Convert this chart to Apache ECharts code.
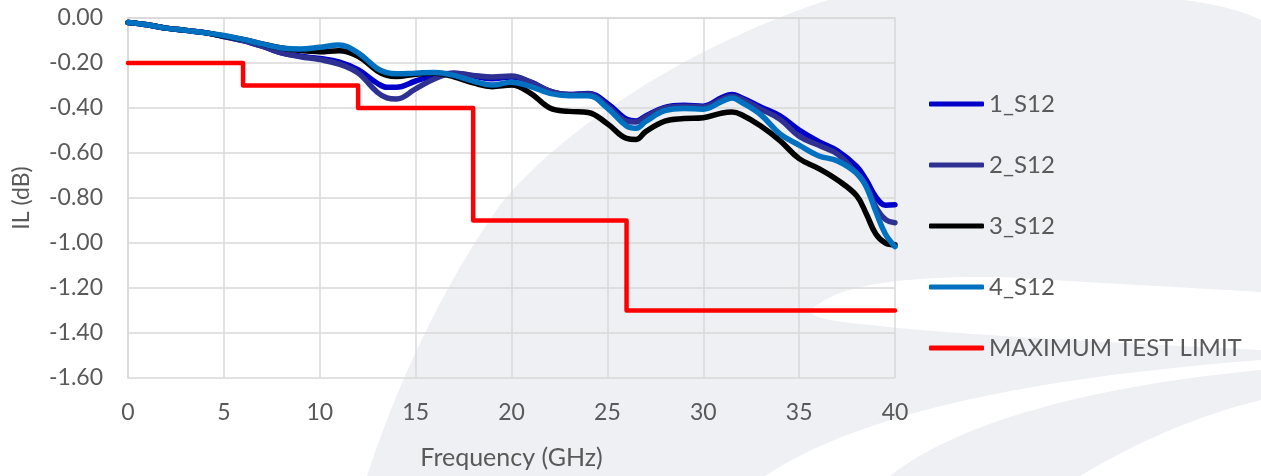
<!DOCTYPE html>
<html>
<head>
<meta charset="utf-8">
<script src="https://cdn.jsdelivr.net/npm/echarts@6/dist/echarts.min.js"></script>
<style>
  html, body { margin: 0; padding: 0; background: #ffffff; }
  #chart { width: 1261px; height: 476px; }
</style>
</head>
<body>
<div id="chart"></div>
<script>
// ---- data ----
var freqGHz = [0,1,2,3,4,5,6,7,8,9,10,11,12,13,13.5,14,15,16,17,18,19,20,21,22,23,24,25,26,26.5,27,28,29,30,31,31.5,32,33,34,35,36,37,38,38.5,39,39.5,40];

var s1_S12 = [-0.02,-0.03,-0.045,-0.055,-0.065,-0.082,-0.10,-0.125,-0.155,-0.17,-0.18,-0.195,-0.23,-0.29,-0.308,-0.308,-0.28,-0.255,-0.245,-0.258,-0.27,-0.262,-0.285,-0.325,-0.34,-0.335,-0.38,-0.45,-0.458,-0.435,-0.397,-0.388,-0.392,-0.352,-0.34,-0.355,-0.395,-0.435,-0.498,-0.548,-0.59,-0.66,-0.72,-0.795,-0.832,-0.83];

var s2_S12 = [-0.02,-0.03,-0.045,-0.055,-0.065,-0.082,-0.10,-0.125,-0.155,-0.172,-0.185,-0.205,-0.245,-0.33,-0.355,-0.36,-0.315,-0.27,-0.245,-0.255,-0.262,-0.258,-0.285,-0.325,-0.34,-0.338,-0.39,-0.458,-0.462,-0.44,-0.40,-0.392,-0.395,-0.36,-0.348,-0.36,-0.405,-0.45,-0.525,-0.565,-0.605,-0.69,-0.745,-0.84,-0.895,-0.91];

var s3_S12 = [-0.02,-0.03,-0.045,-0.055,-0.065,-0.08,-0.095,-0.115,-0.133,-0.145,-0.15,-0.145,-0.17,-0.235,-0.255,-0.26,-0.25,-0.245,-0.262,-0.288,-0.305,-0.298,-0.335,-0.40,-0.415,-0.42,-0.47,-0.535,-0.54,-0.505,-0.458,-0.447,-0.443,-0.422,-0.418,-0.43,-0.48,-0.545,-0.625,-0.668,-0.72,-0.79,-0.87,-0.96,-1.0,-1.008];

var s4_S12 = [-0.02,-0.03,-0.045,-0.055,-0.065,-0.078,-0.095,-0.115,-0.133,-0.138,-0.13,-0.12,-0.155,-0.225,-0.243,-0.248,-0.245,-0.242,-0.255,-0.28,-0.298,-0.285,-0.305,-0.335,-0.345,-0.345,-0.40,-0.48,-0.49,-0.46,-0.412,-0.402,-0.405,-0.37,-0.355,-0.375,-0.43,-0.515,-0.565,-0.612,-0.635,-0.69,-0.75,-0.86,-0.96,-1.016];

var limitFreq  = [0, 6, 6, 12, 12, 18, 18, 26, 26, 40];
var limitValue = [-0.2, -0.2, -0.3, -0.3, -0.4, -0.4, -0.9, -0.9, -1.3, -1.3];

var seriesNames = ['1_S12', '2_S12', '3_S12', '4_S12', 'MAXIMUM TEST LIMIT'];
var seriesColors = ['#0000c8', '#2e3192', '#000000', '#0070c0', '#ff0000'];

var xTicks = { min: 0, max: 40, step: 5 };
var yTicks = { min: -1.6, max: 0, step: 0.2 };

// ---- build ----
function pairs(xs, ys) { return xs.map(function (x, i) { return [x, ys[i]]; }); }

var curveValues = [s1_S12, s2_S12, s3_S12, s4_S12];
var series = curveValues.map(function (vals, i) {
  return {
    name: seriesNames[i], type: 'line', data: pairs(freqGHz, vals),
    smooth: 0.4, showSymbol: false, symbol: 'none',
    lineStyle: { color: seriesColors[i], width: 5.5, cap: 'round', join: 'round' },
    itemStyle: { color: seriesColors[i] },
    z: 3 + i
  };
});
series.push({
  name: seriesNames[4], type: 'line', data: pairs(limitFreq, limitValue),
  showSymbol: false, symbol: 'none',
  lineStyle: { color: seriesColors[4], width: 4.5, cap: 'round', join: 'round' },
  itemStyle: { color: seriesColors[4] },
  z: 8
});

// ---- decorative watermark (background shapes) ----
// each shape: start point then a list of segments; segment = [cx1,cy1,cx2,cy2,x,y] (cubic) or [x,y] (line)
function shapePoints(start, segs) {
  var pts = [start.slice()];
  var cur = start.slice();
  segs.forEach(function (s) {
    if (s.length === 2) { pts.push([s[0], s[1]]); cur = [s[0], s[1]]; return; }
    for (var k = 1; k <= 24; k++) {
      var t = k / 24, u = 1 - t;
      var x = u*u*u*cur[0] + 3*u*u*t*s[0] + 3*u*t*t*s[2] + t*t*t*s[4];
      var y = u*u*u*cur[1] + 3*u*u*t*s[1] + 3*u*t*t*s[3] + t*t*t*s[5];
      pts.push([x, y]);
    }
    cur = [s[4], s[5]];
  });
  return pts;
}
var GRAY = '#eff0f4';
var wm = [
  { fill: GRAY, pts: shapePoints([367,476], [[395,390,440,290,500,205],[560,130,690,45,828,0],[1183,0],[1215,4,1240,10,1261,20],[1261,476]]) },
  { fill: '#ffffff', pts: shapePoints([810,312], [[832,285,900,276,1000,277],[1261,292],[1261,350],[1100,342,950,334,880,326],[840,322,818,320,810,312]]) },
  { fill: '#ffffff', pts: shapePoints([765,476], [[850,420,1000,380,1261,360],[1261,370],[1100,385,960,420,890,476]]) },
  { fill: '#ffffff', pts: shapePoints([1080,476], [[1140,440,1200,415,1261,400],[1261,476]]) }
];
var graphics = wm.map(function (w, i) {
  return { type: 'polygon', z: -10 + i, silent: true, shape: { points: w.pts }, style: { fill: w.fill } };
});

var FONT = 'Lato, "Open Sans", sans-serif';

var chart = echarts.init(document.getElementById('chart'), null, { renderer: 'canvas' });
chart.setOption({
  animation: false,
  backgroundColor: '#ffffff',
  textStyle: { fontFamily: FONT },
  graphic: graphics,
  grid: { left: 128, top: 18, width: 767, height: 360, containLabel: false },
  legend: {
    orient: 'vertical', left: 924, top: 87,
    itemWidth: 55, itemHeight: 5, itemGap: 37,
    icon: 'roundRect',
    data: seriesNames,
    textStyle: { color: '#595959', fontSize: 24, fontFamily: FONT }
  },
  xAxis: {
    type: 'value', min: xTicks.min, max: xTicks.max, interval: xTicks.step,
    name: 'Frequency (GHz)', nameLocation: 'middle', nameGap: 67,
    nameTextStyle: { color: '#595959', fontSize: 25, fontFamily: FONT },
    axisLine: { show: true, lineStyle: { color: '#d9d9d9', width: 1.5 } },
    axisTick: { show: false },
    axisLabel: { color: '#595959', fontSize: 23, margin: 23, fontFamily: FONT },
    splitLine: { show: true, lineStyle: { color: '#d9d9d9', width: 1.5 } }
  },
  yAxis: {
    type: 'value', min: yTicks.min, max: yTicks.max, interval: yTicks.step,
    name: 'IL (dB)', nameLocation: 'middle', nameGap: 95, nameRotate: 90,
    nameTextStyle: { color: '#595959', fontSize: 23, fontFamily: FONT },
    axisLine: { show: true, lineStyle: { color: '#d9d9d9', width: 1.5 } },
    axisTick: { show: false },
    axisLabel: { color: '#595959', fontSize: 23, margin: 25, fontFamily: FONT,
      formatter: function (v) { return (Math.abs(v) < 1e-9 ? 0 : v).toFixed(2); } },
    splitLine: { show: true, lineStyle: { color: '#d9d9d9', width: 1.5 } }
  },
  series: series
});
</script>
</body>
</html>
